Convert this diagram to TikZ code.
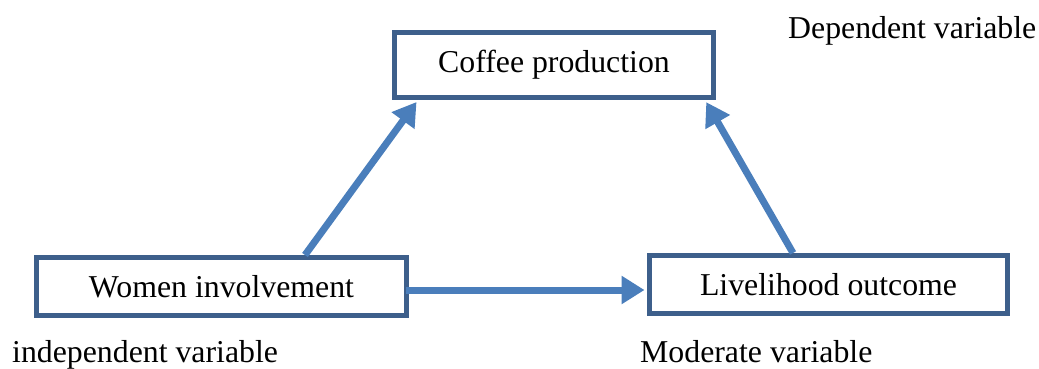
\documentclass[tikz,border=0pt]{standalone}
\usepackage{fontspec}
\setmainfont{Liberation Serif}
\usetikzlibrary{arrows.meta}
\definecolor{boxc}{HTML}{3D5F8B}
\definecolor{arrc}{HTML}{4A7EBB}
\begin{document}
\begin{tikzpicture}[x=1pt,y=1pt,
  varbox/.style={draw=boxc,line width=5pt,rectangle,inner sep=0pt,font=\fontsize{31.8}{38}\selectfont},
  conn/.style={draw=arrc,line width=7pt,shorten >=2.5pt,-{Triangle[width=27pt,length=23pt]}},
  lbl/.style={inner sep=0pt,anchor=base west,font=\fontsize{31.8}{38}\selectfont}]
\useasboundingbox (0,0) rectangle (1039,368);
\node[varbox,minimum width=319pt,minimum height=65pt] (c) at (554,303) {Coffee production};
\node[varbox,minimum width=370pt,minimum height=58pt] (w) at (221.5,81.5) {Women involvement};
\node[varbox,minimum width=358pt,minimum height=58pt] (l) at (828.5,83.5) {Livelihood outcome};
\draw[conn] ([xshift=83.5pt]w.north) -- ([xshift=-136pt]c.south);
\draw[conn] ([xshift=-35.5pt]l.north) -- ([xshift=151pt]c.south);
\coordinate (ws) at ([xshift=-3pt,yshift=-3.5pt]w.east);
\draw[conn] (ws) -- (ws -| l.west);
\node[lbl] (dv) at (788,330) {Dependent variable};
\node[lbl] (iv) at (12,6) {independent variable};
\node[lbl] (mv) at (640,6) {Moderate variable};
\end{tikzpicture}
\end{document}
